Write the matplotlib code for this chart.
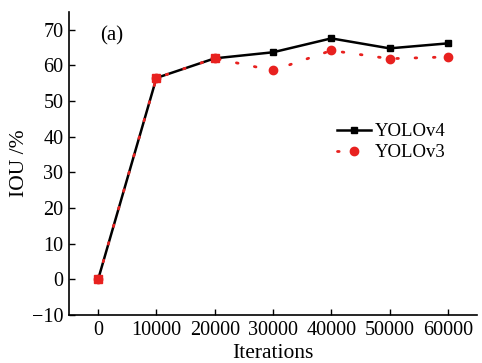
import matplotlib
matplotlib.use("Agg")
import matplotlib.pyplot as plt

# data
iterations = [0, 10000, 20000, 30000, 40000, 50000, 60000]
iou_v4 = [0.0, 56.5, 62.0, 63.7, 67.6, 64.8, 66.2]
iou_v3 = [0.0, 56.5, 62.0, 58.6, 64.2, 61.9, 62.4]
x_ticks = [0, 10000, 20000, 30000, 40000, 50000, 60000]
y_ticks = [-10, 0, 10, 20, 30, 40, 50, 60, 70]

plt.rcParams["font.family"] = ["Liberation Serif", "DejaVu Serif"]

fig = plt.figure(figsize=(4.82, 3.63), dpi=100)
ax = fig.add_axes([69 / 482, 1 - 315 / 363, (477 - 69) / 482, (315 - 12) / 363])

ax.plot(iterations, iou_v4, color="black", lw=1.8, marker="s", ms=5,
        label="YOLOv4", zorder=2)
ax.plot(iterations, iou_v3, color="#e8211f", lw=2.0, ls=(0, (0.6, 6)),
        dash_capstyle="round", marker="o", ms=6, label="YOLOv3", zorder=3)
# the first points of YOLOv3 show square markers in the source
ax.plot(iterations[:3], iou_v3[:3], ls="none", marker="s", ms=6,
        color="#e8211f", zorder=4)

ax.set_xlim(-5000, 65000)
ax.set_ylim(-10, 75)
ax.set_xticks(x_ticks)
ax.set_yticks(y_ticks)
ax.set_yticklabels(["\u221210" if v < 0 else str(v) for v in y_ticks])
ax.tick_params(direction="in", labelsize=14.5, length=4, width=1, pad=4)
for s in ["top", "right"]:
    ax.spines[s].set_visible(False)
for s in ["left", "bottom"]:
    ax.spines[s].set_linewidth(1.2)

ax.set_xlabel("Iterations", fontsize=15.5, labelpad=3)
ax.set_ylabel("IOU /%", fontsize=15.5, labelpad=2)
ax.text(0.076, 0.92, "(a)", transform=ax.transAxes, fontsize=15, va="center")

ax.legend(loc="upper left", bbox_to_anchor=(0.63, 0.67), frameon=False,
          fontsize=13.5, handlelength=1.8, handletextpad=0.2, borderpad=0.1,
          labelspacing=0.2)

fig.savefig("out.png", dpi=100)
